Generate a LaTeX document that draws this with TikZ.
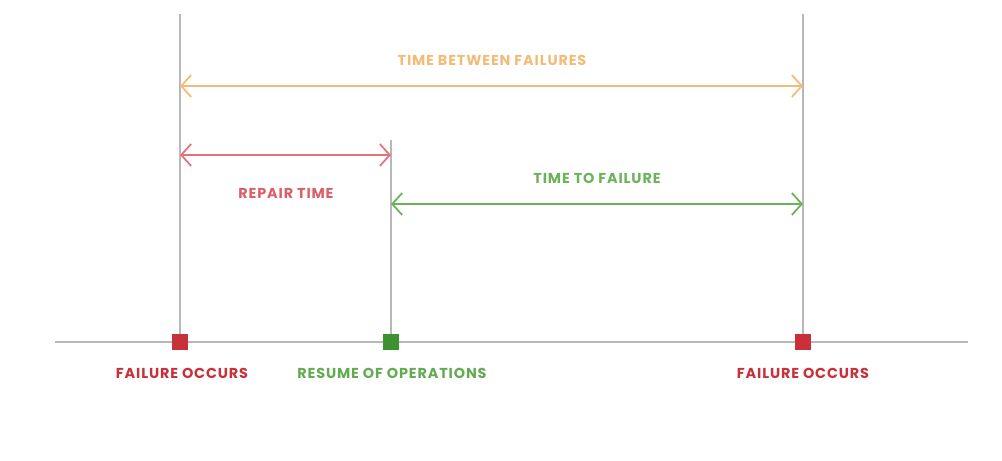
\documentclass[tikz,border=0pt]{standalone}
\usepackage{fontspec}
\setmainfont{Poppins}[LetterSpace=6]
\usetikzlibrary{arrows.meta}
\definecolor{failred}{HTML}{C8303A}
\definecolor{repairred}{HTML}{E2737B}
\definecolor{resumegreen}{HTML}{3E9131}
\definecolor{ttfgreen}{HTML}{6CB25A}
\definecolor{tbforange}{HTML}{F2BC78}
\definecolor{linegray}{HTML}{B8B8B8}

\begin{document}
\begin{tikzpicture}[
            > = {Straight Barb[length=2mm, width=4.4mm]}, % open chevron tips
            every node/.style = {font=\bfseries\fontsize{8.2}{10}\selectfont},
            guide/.style = {draw=linegray, line width=0.9pt},
            span/.style = {<->, line width=1pt},
            marker/.style = {rectangle, minimum size=3.1mm, inner sep=0pt}
        ]

        \useasboundingbox (0,0) rectangle (20.04,9.22);

        % time axis
        \coordinate (axis_l) at (1.1,2.38);
        \coordinate (axis_r) at (19.36,2.38);
        \draw[guide, line width=1.2pt] (axis_l) -- (axis_r);

        % guide tops
        \coordinate (top_1) at (3.6,8.94);
        \coordinate (top_2) at (7.82,6.42);
        \coordinate (top_3) at (16.06,8.94);

        \draw[guide] (3.6,2.38) -- (top_1);
        \draw[guide] (7.82,2.38) -- (top_2);
        \draw[guide] (16.06,2.38) -- (top_3);

        % events on the axis
        \node[marker, fill=failred] (fail_1) at (3.6,2.38) {};
        \node[marker, fill=resumegreen] (resume) at (7.82,2.38) {};
        \node[marker, fill=failred] (fail_2) at (16.06,2.38) {};

        \node[text=failred] (fail_1_lbl) at (3.64,1.76) {FAILURE OCCURS};
        \node[text=ttfgreen!80!resumegreen] (resume_lbl) at (7.84,1.76) {RESUME OF OPERATIONS};
        \node[text=failred] (fail_2_lbl) at (16.06,1.76) {FAILURE OCCURS};

        % spans
        \coordinate (tbf_l) at (3.6,7.5);
        \coordinate (tbf_r) at (16.06,7.5);
        \coordinate (rep_l) at (3.6,6.12);
        \coordinate (rep_r) at (7.82,6.12);
        \coordinate (ttf_l) at (7.82,5.14);
        \coordinate (ttf_r) at (16.06,5.14);

        \draw[span, tbforange] (tbf_l) -- (tbf_r);
        \draw[span, repairred] (rep_l) -- (rep_r);
        \draw[span, ttfgreen] (ttf_l) -- (ttf_r);

        \node[text=tbforange] (tbf_lbl) at (9.84,8.02) {TIME BETWEEN FAILURES};
        \node[text=repairred!70!failred] (rep_lbl) at (5.72,5.36) {REPAIR TIME};
        \node[text=ttfgreen] (ttf_lbl) at (11.94,5.66) {TIME TO FAILURE};

    \end{tikzpicture}
\end{document}
